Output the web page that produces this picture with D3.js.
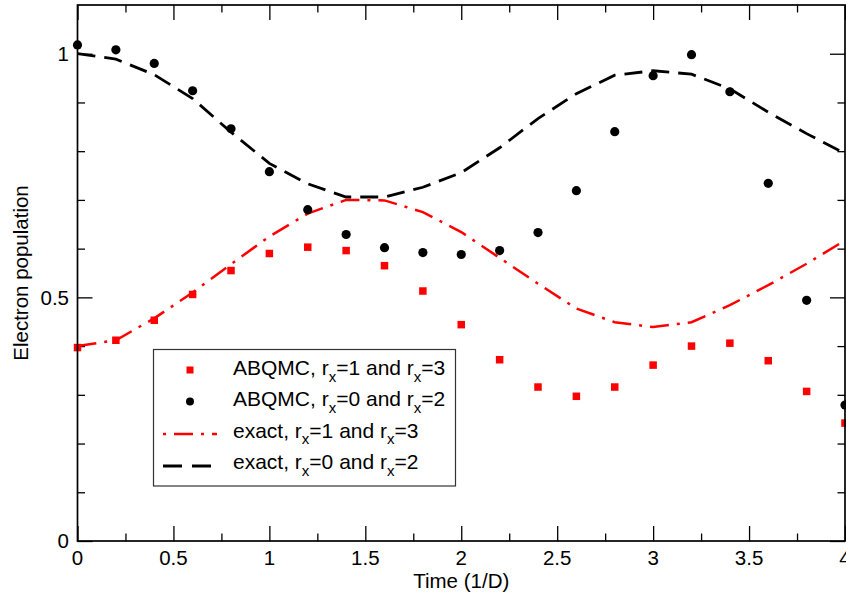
<!DOCTYPE html>
<html>
<head>
<meta charset="utf-8">
<script src="https://cdn.jsdelivr.net/npm/d3@7"></script>
<style>
  html, body { margin: 0; padding: 0; background: #fff; }
  svg { display: block; font-family: "Liberation Sans", Arial, Helvetica, sans-serif; }
</style>
</head>
<body>
<svg id="chart" width="846" height="601"></svg>
<script>
// ---- data ----
const time = [0, 0.2, 0.4, 0.6, 0.8, 1.0, 1.2, 1.4, 1.6, 1.8, 2.0, 2.2, 2.4, 2.6, 2.8, 3.0, 3.2, 3.4, 3.6, 3.8, 4.0];
const abqmcOdd  = [0.397, 0.412, 0.453, 0.506, 0.555, 0.590, 0.603, 0.596, 0.565, 0.513, 0.444, 0.372, 0.316, 0.297, 0.316, 0.361, 0.400, 0.406, 0.370, 0.307, 0.242];
const abqmcEven = [1.018, 1.008, 0.980, 0.924, 0.846, 0.758, 0.680, 0.629, 0.602, 0.592, 0.588, 0.596, 0.633, 0.719, 0.840, 0.955, 0.998, 0.922, 0.734, 0.494, 0.279];
const exactOdd  = [0.400, 0.412, 0.457, 0.510, 0.568, 0.625, 0.672, 0.700, 0.699, 0.675, 0.634, 0.581, 0.528, 0.477, 0.449, 0.439, 0.449, 0.484, 0.525, 0.569, 0.617];
const exactEven = [1.000, 0.989, 0.957, 0.908, 0.839, 0.775, 0.733, 0.706, 0.706, 0.726, 0.756, 0.807, 0.867, 0.918, 0.956, 0.965, 0.958, 0.928, 0.880, 0.836, 0.795];
const xMajorTicks = [0, 0.5, 1, 1.5, 2, 2.5, 3, 3.5, 4];
const xTickLabels = ["0", "0.5", "1", "1.5", "2", "2.5", "3", "3.5", "4"];
const xMinorTicks = [0.25, 0.75, 1.25, 1.75, 2.25, 2.75, 3.25, 3.75];
const yMajorTicks = [0, 0.5, 1];
const yTickLabels = ["0", "0.5", "1"];
const yMinorTicks = [0.1, 0.2, 0.3, 0.4, 0.6, 0.7, 0.8, 0.9];
const legendLabels = [
  ["ABQMC, r", "x", "=1 and r", "x", "=3"],
  ["ABQMC, r", "x", "=0 and r", "x", "=2"],
  ["exact, r", "x", "=1 and r", "x", "=3"],
  ["exact, r", "x", "=0 and r", "x", "=2"]
];
const xLabel = "Time (1/D)";
const yLabel = "Electron population";

// ---- layout ----
const L = 77.5, R = 845, T = 5, B = 541;
const svg = d3.select("#chart");
const x = d3.scaleLinear().domain([0, 4]).range([L, R]);
const y = d3.scaleLinear().domain([0, 1.1]).range([B, T]);

const FS = 20.5;

// ---- axes (ticks inside, mirrored) ----
function axisG(axis, tx, ty) {
  const g = svg.append("g").attr("transform", `translate(${tx},${ty})`).call(axis);
  g.select(".domain").remove();
  g.selectAll(".tick line").attr("stroke", "#000").attr("stroke-width", 1.3);
  g.selectAll("text").remove();
  return g;
}
const MAJ = 15, MIN = 7.5;
axisG(d3.axisBottom(x).tickValues(xMajorTicks).tickSize(-MAJ), 0, B);
axisG(d3.axisBottom(x).tickValues(xMinorTicks).tickSize(-MIN), 0, B);
axisG(d3.axisTop(x).tickValues(xMajorTicks).tickSize(-MAJ), 0, T);
axisG(d3.axisTop(x).tickValues(xMinorTicks).tickSize(-MIN), 0, T);
axisG(d3.axisLeft(y).tickValues(yMajorTicks).tickSize(-MAJ), L, 0);
axisG(d3.axisLeft(y).tickValues(yMinorTicks).tickSize(-MIN), L, 0);
axisG(d3.axisRight(y).tickValues(yMajorTicks).tickSize(-MAJ), R, 0);
axisG(d3.axisRight(y).tickValues(yMinorTicks).tickSize(-MIN), R, 0);

// tick labels
svg.append("g").selectAll("text").data(xMajorTicks).join("text")
  .attr("x", d => x(d)).attr("y", 565)
  .attr("text-anchor", "middle").attr("font-size", FS)
  .text((d, i) => xTickLabels[i]);
svg.append("g").selectAll("text").data(yMajorTicks).join("text")
  .attr("x", 69).attr("y", d => y(d)).attr("dy", "0.36em")
  .attr("text-anchor", "end").attr("font-size", FS)
  .text((d, i) => yTickLabels[i]);

// axis labels
svg.append("text").attr("x", (L + R) / 2).attr("y", 588)
  .attr("text-anchor", "middle").attr("font-size", FS).text(xLabel);
svg.append("text").attr("transform", `translate(28,${(T + B) / 2}) rotate(-90)`)
  .attr("text-anchor", "middle").attr("font-size", FS).text(yLabel);

// ---- curves ----
const line = d3.line().x(d => x(d[0])).y(d => y(d[1]));
svg.append("path").datum(time.map((t, i) => [t, exactOdd[i]]))
  .attr("d", line).attr("fill", "none").attr("stroke", "#ff0000")
  .attr("stroke-width", 2.5).attr("stroke-dasharray", "19,8,3,8");
svg.append("path").datum(time.map((t, i) => [t, exactEven[i]]))
  .attr("d", line).attr("fill", "none").attr("stroke", "#000")
  .attr("stroke-width", 2.8).attr("stroke-dasharray", "18,9");

// ---- points ----
const SQ = 7.5;
svg.append("g").selectAll("rect").data(time).join("rect")
  .attr("x", (t) => x(t) - SQ / 2).attr("y", (t, i) => y(abqmcOdd[i]) - SQ / 2)
  .attr("width", SQ).attr("height", SQ).attr("fill", "#ff0000");
svg.append("g").selectAll("circle").data(time).join("circle")
  .attr("cx", t => x(t)).attr("cy", (t, i) => y(abqmcEven[i]))
  .attr("r", 4.6).attr("fill", "#000");

// ---- frame ----
svg.append("rect").attr("x", L).attr("y", T).attr("width", R - L).attr("height", B - T)
  .attr("fill", "none").attr("stroke", "#000").attr("stroke-width", 1.7);

// ---- legend ----
const lg = svg.append("g");
lg.append("rect").attr("x", 153.5).attr("y", 349.5).attr("width", 302).attr("height", 136.5)
  .attr("fill", "#fff").attr("stroke", "#333").attr("stroke-width", 1.2);
const rowsY = [375, 406, 437.5, 469];
lg.append("rect").attr("x", 190 - 3.5).attr("y", 370 - 3.5).attr("width", 7).attr("height", 7).attr("fill", "#ff0000");
lg.append("circle").attr("cx", 190).attr("cy", 401.5).attr("r", 4).attr("fill", "#000");
lg.append("line").attr("x1", 163).attr("x2", 217).attr("y1", 434).attr("y2", 434)
  .attr("stroke", "#ff0000").attr("stroke-width", 2.5).attr("stroke-dasharray", "3,8,19,8");
lg.append("line").attr("x1", 163).attr("x2", 212).attr("y1", 466).attr("y2", 466)
  .attr("stroke", "#000").attr("stroke-width", 2.8).attr("stroke-dasharray", "19,10");
legendLabels.forEach((parts, r) => {
  const t = lg.append("text").attr("x", 233).attr("y", rowsY[r]).attr("font-size", 21);
  parts.forEach((p, k) => {
    const sub = k % 2 === 1;
    t.append("tspan").text(p)
      .attr("font-size", sub ? 15 : 21)
      .attr("dy", sub ? 6.5 : (k === 0 ? 0 : -6.5));
  });
});
</script>
</body>
</html>
